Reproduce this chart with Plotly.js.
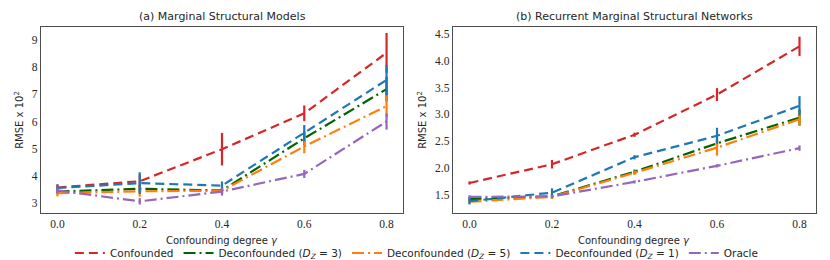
<!DOCTYPE html>
<html><head><meta charset="utf-8">
<script src="https://cdn.plot.ly/plotly-3.0.1.min.js"></script>
<style>body{margin:0;background:#fff}#c{width:830px;height:260px}</style>
</head><body><div id="c"></div>
<script>
const gammas = [0.0, 0.2, 0.4, 0.6, 0.8];
const seriesNames = ["Confounded", "Deconfounded (<i>D</i><sub><i>Z</i></sub> = 3)", "Deconfounded (<i>D</i><sub><i>Z</i></sub> = 5)", "Deconfounded (<i>D</i><sub><i>Z</i></sub> = 1)", "Oracle"];
// (a) Marginal Structural Models
const msmConfounded = [3.57, 3.80, 4.98, 6.30, 8.53];
const msmConfoundedErr = [0.12, 0.25, 0.60, 0.29, 0.73];
const msmDecon3 = [3.42, 3.52, 3.46, 5.38, 7.19];
const msmDecon3Err = [0.10, 0.15, 0.12, 0.25, 0.45];
const msmDecon5 = [3.36, 3.43, 3.45, 5.08, 6.57];
const msmDecon5Err = [0.12, 0.20, 0.10, 0.25, 0.40];
const msmDecon1 = [3.55, 3.73, 3.64, 5.57, 7.53];
const msmDecon1Err = [0.12, 0.40, 0.15, 0.30, 0.55];
const msmOracle = [3.46, 3.06, 3.42, 4.07, 6.00];
const msmOracleErr = [0.10, 0.12, 0.15, 0.15, 0.30];
// (b) Recurrent Marginal Structural Networks
const rmsnConfounded = [1.72, 2.07, 2.62, 3.37, 4.27];
const rmsnConfoundedErr = [0.03, 0.08, 0.04, 0.12, 0.18];
const rmsnDecon3 = [1.42, 1.47, 1.93, 2.46, 2.94];
const rmsnDecon3Err = [0.04, 0.04, 0.04, 0.10, 0.15];
const rmsnDecon5 = [1.37, 1.46, 1.91, 2.38, 2.91];
const rmsnDecon5Err = [0.04, 0.04, 0.04, 0.15, 0.12];
const rmsnDecon1 = [1.38, 1.54, 2.20, 2.60, 3.16];
const rmsnDecon1Err = [0.06, 0.08, 0.04, 0.15, 0.18];
const rmsnOracle = [1.46, 1.47, 1.74, 2.04, 2.37];
const rmsnOracleErr = [0.03, 0.03, 0.03, 0.03, 0.05];
const xTickVals = [0.0, 0.2, 0.4, 0.6, 0.8];
const xTickText = ["0.0", "0.2", "0.4", "0.6", "0.8"];
const yTickValsA = [3, 4, 5, 6, 7, 8, 9];
const yTickValsB = [1.5, 2.0, 2.5, 3.0, 3.5, 4.0, 4.5];
const yTickTextB = ["1.5", "2.0", "2.5", "3.0", "3.5", "4.0", "4.5"];
const xTitle = "Confounding degree <i>γ</i>";
const yTitle = "RMSE x 10<sup>2</sup>";

const colors = ["#d62728", "#006400", "#ff7f0e", "#1f77b4", "#9467bd"];
const dashes = ["9px,5px", "12px,4px,2px,4px", "12px,4px,2px,4px", "9px,5px", "12px,4px,2px,4px"];
const msm = [[msmConfounded, msmConfoundedErr], [msmDecon3, msmDecon3Err], [msmDecon5, msmDecon5Err], [msmDecon1, msmDecon1Err], [msmOracle, msmOracleErr]];
const rmsn = [[rmsnConfounded, rmsnConfoundedErr], [rmsnDecon3, rmsnDecon3Err], [rmsnDecon5, rmsnDecon5Err], [rmsnDecon1, rmsnDecon1Err], [rmsnOracle, rmsnOracleErr]];

const traces = [];
function add(set, xa, ya, showLegend) {
  set.forEach((s, i) => {
    traces.push({
      x: gammas, y: s[0], type: "scatter", mode: "lines",
      name: seriesNames[i], showlegend: showLegend, legendgroup: "g" + i,
      xaxis: xa, yaxis: ya,
      line: {color: colors[i], width: 2.2, dash: dashes[i]},
      error_y: {type: "data", array: s[1], visible: true, color: colors[i], thickness: 2.2, width: 0}
    });
  });
}
add(msm, "x", "y", true);
add(rmsn, "x2", "y2", false);

const serif = "Liberation Serif, DejaVu Serif, serif";
const sans = "DejaVu Sans, Liberation Sans, sans-serif";
const axisCommon = {
  showgrid: false, zeroline: false, showline: true, mirror: true, automargin: false,
  linecolor: "#4d4d4d", linewidth: 1.3, ticks: "", ticklen: 0,
  tickfont: {family: serif, size: 11.5, color: "#262626"}
};
const xCommon = Object.assign({}, axisCommon, {
  range: [-0.04, 0.84], tickvals: xTickVals, ticktext: xTickText
});
const txtFont = {family: sans, size: 10, color: "#262626"};
const layout = {
  width: 830, height: 260,
  margin: {l: 41, r: 14, t: 27, b: 47},
  paper_bgcolor: "#fff", plot_bgcolor: "#fff",
  showlegend: true,
  legend: {orientation: "h", x: 0.485, xanchor: "center", yref: "container", y: 0.027, yanchor: "middle",
    font: {family: sans, size: 10.5, color: "#262626"}, bgcolor: "rgba(0,0,0,0)", itemwidth: 30, tracegroupgap: 0},
  xaxis: Object.assign({}, xCommon, {domain: [0, 0.4671], anchor: "y"}),
  xaxis2: Object.assign({}, xCommon, {domain: [0.5316, 1], anchor: "y2"}),
  yaxis: Object.assign({}, axisCommon, {domain: [0, 1], anchor: "x", range: [2.63, 9.48], tickvals: yTickValsA,
    title: {text: yTitle, font: txtFont, standoff: 6}}),
  yaxis2: Object.assign({}, axisCommon, {domain: [0, 1], anchor: "x2", range: [1.16, 4.63], tickvals: yTickValsB, ticktext: yTickTextB,
    title: {text: yTitle, font: txtFont, standoff: 6}}),
  annotations: [
    {text: "(a) Marginal Structural Models", xref: "x domain", yref: "y domain", x: 0.5, y: 1, yshift: 2,
      xanchor: "center", yanchor: "bottom", showarrow: false, font: {family: sans, size: 11, color: "#262626"}},
    {text: "(b) Recurrent Marginal Structural Networks", xref: "x2 domain", yref: "y2 domain", x: 0.5, y: 1, yshift: 2,
      xanchor: "center", yanchor: "bottom", showarrow: false, font: {family: sans, size: 11, color: "#262626"}},
    {text: xTitle, xref: "x domain", yref: "y domain", x: 0.5, y: 0, yshift: -20,
      xanchor: "center", yanchor: "top", showarrow: false, font: txtFont},
    {text: xTitle, xref: "x2 domain", yref: "y2 domain", x: 0.5, y: 0, yshift: -20,
      xanchor: "center", yanchor: "top", showarrow: false, font: txtFont}
  ]
};
Plotly.newPlot("c", traces, layout, {displayModeBar: false, staticPlot: true});
</script></body></html>
